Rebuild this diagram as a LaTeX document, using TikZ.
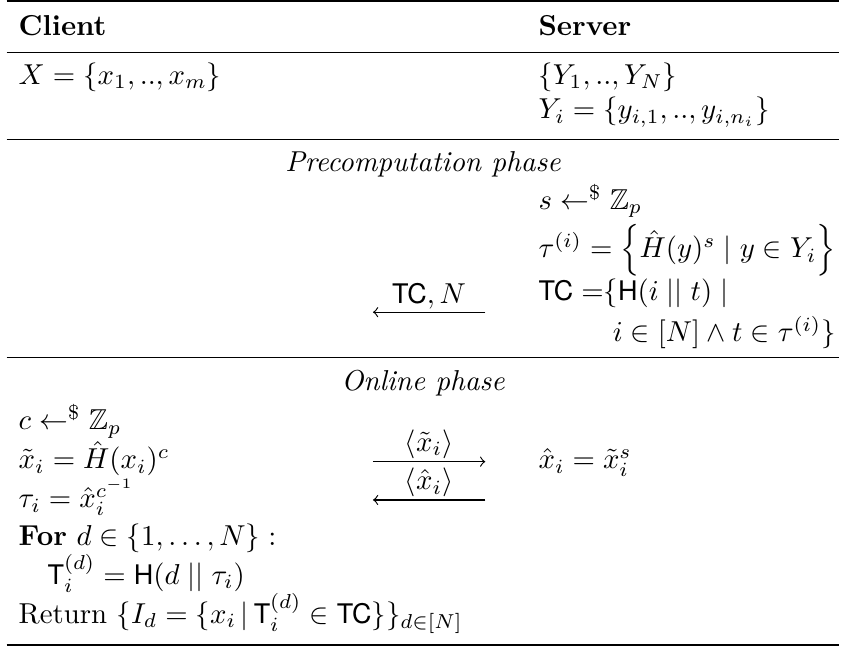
\documentclass[tikz,border=0pt]{standalone}
\usepackage{amsmath,amssymb}
\usepackage{fontspec}
\newfontfamily\herosfont{TeX Gyre Heros}[Scale=MatchUppercase]
\newcommand{\hsf}[1]{\text{\herosfont #1}}
\begin{document}
\begin{tikzpicture}[x=1pt,y=-1pt,
  cell/.style={anchor=base west,inner sep=0pt,outer sep=0pt},
  cellc/.style={anchor=base,inner sep=0pt,outer sep=0pt},
  cellr/.style={anchor=base east,inner sep=0pt,outer sep=0pt},
  heavyrule/.style={line width=0.8pt},
  lightrule/.style={line width=0.5pt},
  msg/.style={->,line width=0.4pt}]
\useasboundingbox (0,0) rectangle (293.75,224.3);
% rules
\coordinate (r0a) at (2.3,0.45);   \coordinate (r0b) at (291.4,0.45);
\coordinate (r1a) at (2.3,18.3);   \coordinate (r1b) at (291.4,18.3);
\coordinate (r2a) at (2.3,48.4);   \coordinate (r2b) at (291.4,48.4);
\coordinate (r3a) at (2.3,124.2);  \coordinate (r3b) at (291.4,124.2);
\coordinate (r4a) at (2.3,223.85); \coordinate (r4b) at (291.4,223.85);
\draw[heavyrule] (r0a) -- (r0b);
\draw[lightrule] (r1a) -- (r1b);
\draw[lightrule] (r2a) -- (r2b);
\draw[lightrule] (r3a) -- (r3b);
\draw[heavyrule] (r4a) -- (r4b);
% header
\node[cell] (client) at (6.5,12.3) {\textbf{Client}};
\node[cell] (server) at (187,12.3) {\textbf{Server}};
% inputs
\node[cell] (xset) at (6.5,29.3) {$X=\{x_1,..,x_m\}$};
\node[cell] (yset) at (187,29.3) {$\{Y_1,..,Y_N\}$};
\node[cell] (yi) at (187,41.3) {$Y_i=\{y_{i,1},..,y_{i,n_i}\}$};
% precomputation
\node[cellc] (pre) at (146.9,59.5) {\textit{Precomputation phase}};
\node[cell] (samp) at (187,72.8) {$s\leftarrow^{\$}\mathbb{Z}_p$};
\node[cell] (tau) at (187,89.5) {$\tau^{(i)}=\left\{\hat{H}(y)^s\mid y\in Y_i\right\}$};
\node[cell] (tc) at (187,104.2) {$\hsf{TC}\;{=}\{\hsf{H}(i\mathrel{||}t)\mid$};
\node[cellr] (tcb) at (tau.east |- 0,118.6) {$i\in[N]\wedge t\in\tau^{(i)}\}$};
\node[cellc] (m1) at (149,105.3) {$\hsf{TC}, N$};
\coordinate (m1s) at (168.5,108.4);
\coordinate (m1e) at (129.5,108.4);
\draw[msg] (m1s) -- (m1e);
% online
\node[cellc] (onl) at (146.9,135.7) {\textit{Online phase}};
\node[cell] (csamp) at (6.5,149.3) {$c\leftarrow^{\$}\mathbb{Z}_p$};
\node[cell] (xt) at (6.5,162.8) {$\tilde{x}_i=\hat{H}(x_i)^c$};
\node[cell] (ti) at (6.5,176.3) {$\tau_i=\hat{x}_i^{c^{-1}}$};
\node[cell] (for) at (6.5,189.5) {\textbf{For} $d\in\{1,\dots,N\}:$};
\node[cell] (tdi) at (16.5,203) {$\hsf{T}_i^{(d)}=\hsf{H}(d\mathrel{||}\tau_i)$};
\node[cell] (ret) at (6.5,216.5) {Return $\{I_d=\{x_i\,|\,\hsf{T}_i^{(d)}\in\hsf{TC}\}\}_{d\in[N]}$};
\node[cell] (xh) at (187,162.8) {$\hat{x}_i=\tilde{x}_i^s$};
\node[cellc] (m2) at (149,156.6) {$\langle\tilde{x}_i\rangle$};
\coordinate (m2s) at (129.5,160.3);
\coordinate (m2e) at (168.5,160.3);
\draw[msg] (m2s) -- (m2e);
\node[cellc] (m3) at (149,170.1) {$\langle\hat{x}_i\rangle$};
\coordinate (m3s) at (168.5,173.6);
\coordinate (m3e) at (129.5,173.6);
\draw[msg] (m3s) -- (m3e);
\end{tikzpicture}
\end{document}
